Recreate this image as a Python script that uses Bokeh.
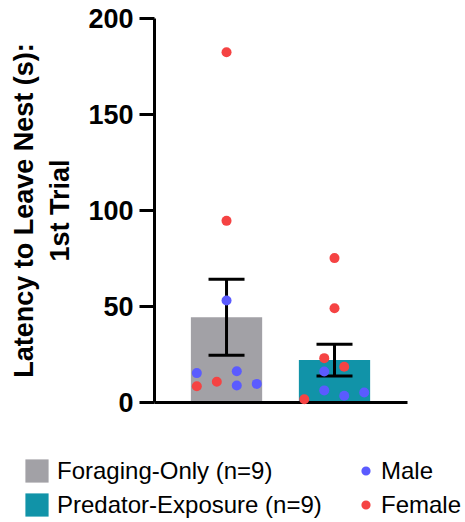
from bokeh.plotting import figure
from bokeh.models import (ColumnDataSource, Range1d, FixedTicker, Whisker, TeeHead,
                          Legend, LegendItem)
from bokeh.embed import file_html
from bokeh.resources import INLINE
import numpy as np

# ---- data ----
groups = ["Foraging-Only (n=9)", "Predator-Exposure (n=9)"]
foraging_vals = [182.4, 94.6, 53.1, 15.3, 8.5, 10.8, 16.3, 8.9, 9.7]
foraging_sex = ["F", "F", "M", "M", "F", "F", "M", "M", "M"]
predator_vals = [75.2, 49.1, 23.1, 18.6, 16.1, 6.3, 3.5, 5.2, 1.7]
predator_sex = ["F", "F", "F", "F", "M", "M", "M", "M", "F"]
sex_labels = ["Male", "Female"]
y_ticks = [0, 50, 100, 150, 200]

# ---- layout (point scatter offsets within each group) ----
foraging_jitter = [0, 0, 0, -0.275, -0.275, -0.09, 0.095, 0.095, 0.28]
predator_jitter = [0, 0, -0.095, 0.09, -0.095, -0.095, 0.09, 0.275, -0.28]

bar_colors = ["#a2a1a6", "#1193a8"]
male_color = "#5b5bff"
female_color = "#f54343"
FONT = "Liberation Sans"

all_vals = [foraging_vals, predator_vals]
all_sex = [foraging_sex, predator_sex]
all_jit = [foraging_jitter, predator_jitter]

means = [float(np.mean(v)) for v in all_vals]
sems = [float(np.std(v, ddof=1) / np.sqrt(len(v))) for v in all_vals]

bar_src = ColumnDataSource(dict(x=[0, 1], top=means, color=bar_colors,
                                lower=[m - s for m, s in zip(means, sems)],
                                upper=[m + s for m, s in zip(means, sems)]))

pts = {"M": dict(x=[], y=[]), "F": dict(x=[], y=[])}
for gi in range(2):
    for v, s, j in zip(all_vals[gi], all_sex[gi], all_jit[gi]):
        pts[s]["x"].append(gi + j)
        pts[s]["y"].append(v)

W = 460
H1 = 440
p = figure(width=W, height=H1, output_backend="svg", toolbar_location=None,
           x_range=Range1d(-0.667, 1.676), y_range=Range1d(0, 200),
           min_border_left=154, min_border_right=W - 407,
           min_border_top=18, min_border_bottom=H1 - 402)
p.outline_line_color = None
p.grid.grid_line_color = None
p.background_fill_color = None
p.border_fill_color = None

# bars
p.vbar(x="x", top="top", source=bar_src, width=0.66, fill_color="color", line_color=None)

# error bars (mean +/- SEM)
wh = Whisker(source=bar_src, base="x", lower="lower", upper="upper",
             line_width=3, line_color="black", level="guide",
             upper_head=TeeHead(size=36, line_width=3, line_color="black"),
             lower_head=TeeHead(size=36, line_width=3, line_color="black"))
p.add_layout(wh)

# points
p.scatter(x="x", y="y", source=ColumnDataSource(pts["F"]), size=10,
          fill_color=female_color, line_color=None, level="overlay")
p.scatter(x="x", y="y", source=ColumnDataSource(pts["M"]), size=10,
          fill_color=male_color, line_color=None, level="overlay")

# axes
yax = p.yaxis[0]
yax.ticker = FixedTicker(ticks=y_ticks)
yax.minor_tick_line_color = None
yax.major_tick_out = 15
yax.major_tick_in = 0
yax.major_tick_line_width = 3
yax.axis_line_width = 3
yax.major_label_text_font = FONT
yax.major_label_text_font_style = "bold"
yax.major_label_text_font_size = "27px"
yax.major_label_text_color = "black"
yax.major_label_standoff = 6
yax.axis_label = "Latency to Leave Nest (s):\n1st Trial"
yax.axis_label_text_font = FONT
yax.axis_label_text_font_style = "bold"
yax.axis_label_text_font_size = "27px"
yax.axis_label_text_color = "black"
yax.axis_label_standoff = 10

xax = p.xaxis[0]
xax.ticker = FixedTicker(ticks=[])
xax.minor_tick_line_color = None
xax.major_tick_line_color = None
xax.axis_line_width = 3
xax.major_label_text_font_size = "0px"

# ---- legend panel (separate root, full-width frame) ----
W2 = 465
H2 = 80
lg = figure(width=W2, height=H2, output_backend="svg", toolbar_location=None,
            x_range=Range1d(0, 1), y_range=Range1d(0, 1),
            min_border_left=0, min_border_right=0, min_border_top=0, min_border_bottom=0)
lg.axis.visible = False
lg.grid.visible = False
lg.outline_line_color = None
lg.background_fill_color = None
lg.border_fill_color = None
nan = float("nan")
g_bars = [lg.vbar(x=[nan], top=[nan], width=0.1, fill_color=c, line_color=None) for c in bar_colors]
g_m = lg.scatter(x=[nan], y=[nan], fill_color=male_color, line_color=None)
g_f = lg.scatter(x=[nan], y=[nan], fill_color=female_color, line_color=None)

common = dict(glyph_height=29, label_height=29, spacing=5, padding=0, margin=0,
              border_line_color=None, background_fill_alpha=0,
              label_text_font=FONT, label_text_font_size="24px", label_text_color="black")
leg1 = Legend(items=[LegendItem(label=groups[0], renderers=[g_bars[0]]),
                     LegendItem(label=groups[1], renderers=[g_bars[1]])],
              location=(22, 1), glyph_width=29, label_standoff=6, **common)
leg2 = Legend(items=[LegendItem(label=sex_labels[0], renderers=[g_m]),
                     LegendItem(label=sex_labels[1], renderers=[g_f])],
              location=(354, 1), glyph_width=23, label_standoff=4, **common)
lg.add_layout(leg1)
lg.add_layout(leg2)

open("out.html", "w").write(file_html([p, lg], INLINE))
